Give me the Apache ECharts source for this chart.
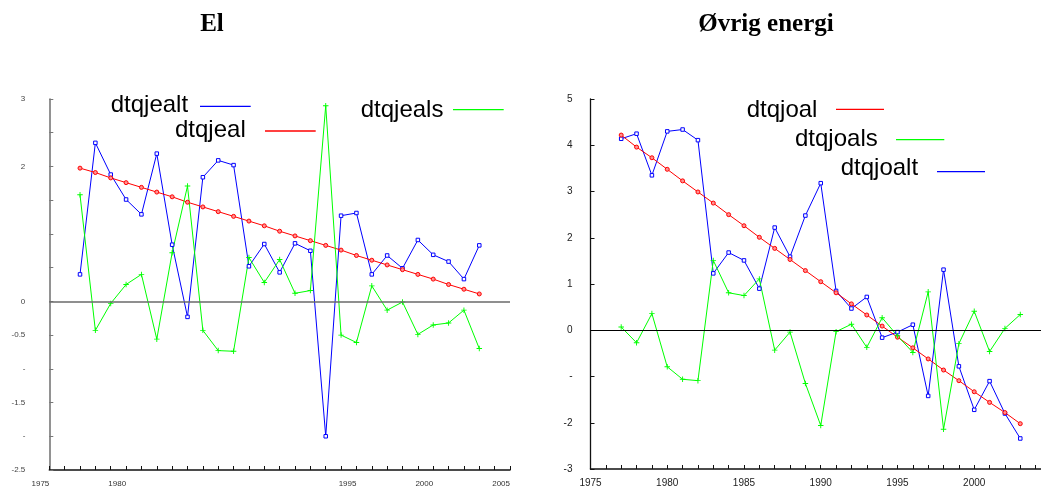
<!DOCTYPE html>
<html>
<head>
<meta charset="utf-8">
<script src="https://cdn.jsdelivr.net/npm/echarts@6/dist/echarts.min.js"></script>
<style>
  html, body { margin: 0; padding: 0; background: #fff; }
  #chart { width: 1041px; height: 488px; }
</style>
</head>
<body>
<div id="chart"></div>
<script>
// Years of the observations (both panels)
const years = [1977, 1978, 1979, 1980, 1981, 1982, 1983, 1984, 1985, 1986, 1987, 1988, 1989, 1990,
               1991, 1992, 1993, 1994, 1995, 1996, 1997, 1998, 1999, 2000, 2001, 2002, 2003];

// Panel "El"
const dtqjealt = [0.40, 2.35, 1.88, 1.51, 1.29, 2.19, 0.84, -0.23, 1.84, 2.09, 2.02, 0.52, 0.85, 0.43,
                  0.86, 0.75, -2.00, 1.27, 1.31, 0.40, 0.68, 0.49, 0.91, 0.69, 0.59, 0.33, 0.83];
const dtqjeal  = [1.975, 1.91, 1.83, 1.76, 1.69, 1.62, 1.55, 1.47, 1.40, 1.33, 1.26, 1.19, 1.12, 1.04,
                  0.97, 0.90, 0.83, 0.76, 0.68, 0.61, 0.54, 0.47, 0.40, 0.33, 0.25, 0.18, 0.11];
const dtqjeals = [1.58, -0.43, -0.03, 0.25, 0.40, -0.56, 0.72, 1.71, -0.43, -0.73, -0.74, 0.65, 0.28, 0.62,
                  0.12, 0.16, 2.90, -0.50, -0.61, 0.23, -0.13, -0.01, -0.49, -0.35, -0.32, -0.13, -0.70];

// Panel "Øvrig energi"
const dtqjoalt = [4.14, 4.25, 3.35, 4.30, 4.34, 4.11, 1.23, 1.68, 1.51, 0.90, 2.22, 1.59, 2.48, 3.18,
                  0.85, 0.47, 0.72, -0.16, -0.04, 0.12, -1.42, 1.31, -0.78, -1.72, -1.10, -1.80, -2.34];
const dtqjoal  = [4.22, 3.96, 3.73, 3.48, 3.23, 2.99, 2.75, 2.50, 2.26, 2.01, 1.77, 1.53, 1.29, 1.05,
                  0.81, 0.57, 0.33, 0.09, -0.15, -0.38, -0.62, -0.86, -1.09, -1.33, -1.56, -1.78, -2.02];
const dtqjoals = [0.07, -0.27, 0.36, -0.79, -1.06, -1.09, 1.51, 0.81, 0.75, 1.11, -0.43, -0.04, -1.15, -2.06,
                  -0.03, 0.13, -0.37, 0.27, -0.12, -0.48, 0.83, -2.14, -0.29, 0.41, -0.46, 0.04, 0.34];

// Tick labels
const elYTickValues  = [3, 2, 0, -0.5, -1, -1.5, -2, -2.5];
const elYTickLabels  = ['3', '2', '0', '-0.5', '-', '-1.5', '-', '-2.5'];
const elXTickLabels  = [1975, 1980, 1995, 2000, 2005];
const ovYTickValues  = [5, 4, 3, 2, 1, 0, -1, -2, -3];
const ovYTickLabels  = ['5', '4', '3', '2', '1', '0', '-', '-2', '-3'];
const ovXTickLabels  = [1975, 1980, 1985, 1990, 1995, 2000];

const pair = arr => years.map((y, i) => [y, arr[i]]);

const BLUE = '#0000ff', RED = '#ff0000', GREEN = '#00ff00';
const plusSymbol = 'path://M3,0h1.2v3h3v1.2h-3v3h-1.2v-3h-3v-1.2h3z';

function yLabel(values, labels) {
  return v => {
    const i = values.findIndex(t => Math.abs(t - v) < 1e-6);
    return i >= 0 ? labels[i] : '';
  };
}
function xLabel(list) {
  return v => (list.indexOf(Math.round(v)) >= 0 && Math.abs(v - Math.round(v)) < 1e-6) ? String(Math.round(v)) : '';
}

function lineSeries(name, arr, color, kind, gridIdx) {
  const s = {
    name, type: 'line', data: pair(arr),
    xAxisIndex: gridIdx, yAxisIndex: gridIdx,
    lineStyle: { color, width: 1 },
    itemStyle: { color },
    animation: false,
    z: 3
  };
  if (kind === 'square') {
    s.symbol = 'rect'; s.symbolSize = 3.5;
    s.itemStyle = { color: '#ffffff', borderColor: color, borderWidth: 1 };
  } else if (kind === 'circle') {
    s.symbol = 'circle'; s.symbolSize = 4;
    s.itemStyle = { color: '#ff9090', borderColor: color, borderWidth: 1 };
  } else {
    s.symbol = plusSymbol; s.symbolSize = 5.5;
    s.itemStyle = { color };
  }
  return s;
}

function legendItem(label, x, yText, x1, x2, yLine, color) {
  return [
    { type: 'text', left: x, top: yText - 14, silent: true,
      style: { text: label, font: '24px "Liberation Sans", Arial, sans-serif', fill: '#000' } },
    { type: 'line', silent: true,
      shape: { x1, y1: yLine, x2, y2: yLine },
      style: { stroke: color, lineWidth: 1.3 } }
  ];
}

const zeroLine = (color, width) => ({
  silent: true, symbol: 'none', label: { show: false },
  lineStyle: { color, width, type: 'solid' },
  data: [{ yAxis: 0 }], animation: false
});

const chart = echarts.init(document.getElementById('chart'), null, { renderer: 'canvas' });

const elSeries = [
  lineSeries('dtqjealt', dtqjealt, BLUE, 'square', 0),
  lineSeries('dtqjeal', dtqjeal, RED, 'circle', 0),
  lineSeries('dtqjeals', dtqjeals, GREEN, 'plus', 0)
];
elSeries[0].markLine = zeroLine('#6a6a6a', 1.6);

const ovSeries = [
  lineSeries('dtqjoalt', dtqjoalt, BLUE, 'square', 1),
  lineSeries('dtqjoal', dtqjoal, RED, 'circle', 1),
  lineSeries('dtqjoals', dtqjoals, GREEN, 'plus', 1)
];
ovSeries[0].markLine = zeroLine('#000000', 1.2);

chart.setOption({
  backgroundColor: '#ffffff',
  animation: false,
  grid: [
    { left: 49.3, right: 531, top: 99, bottom: 12, containLabel: false },
    { left: 590.5, right: 0, top: 99, bottom: 17, containLabel: false }
  ],
  xAxis: [
    {
      type: 'value', gridIndex: 0, min: 1975, max: 2005, interval: 1,
      axisLine: { onZero: false, lineStyle: { color: '#111', width: 1.5 } },
      axisTick: { inside: true, length: 4, lineStyle: { color: '#111' } },
      axisLabel: { formatter: xLabel(elXTickLabels), fontSize: 8, color: '#333', margin: 10,
                   align: 'right', fontFamily: '"Liberation Sans", Arial, sans-serif',
                   showMinLabel: true, showMaxLabel: true },
      splitLine: { show: false }
    },
    {
      type: 'value', gridIndex: 1, min: 1975, max: 2004.35, interval: 1,
      axisLine: { onZero: false, lineStyle: { color: '#111', width: 1.5 } },
      axisTick: { inside: true, length: 4, lineStyle: { color: '#111' } },
      axisLabel: { formatter: xLabel(ovXTickLabels), fontSize: 10, color: '#222', margin: 9,
                   fontFamily: '"Liberation Sans", Arial, sans-serif', showMaxLabel: false },
      splitLine: { show: false }
    }
  ],
  yAxis: [
    {
      type: 'value', gridIndex: 0, min: -2.5, max: 3, interval: 0.5,
      axisLine: { show: true, onZero: false, lineStyle: { color: '#777', width: 1.6 } },
      axisTick: { show: true, inside: true, length: 4, lineStyle: { color: '#777' } },
      axisLabel: { formatter: yLabel(elYTickValues, elYTickLabels), fontSize: 8, color: '#444', margin: 24,
                   fontFamily: '"Liberation Sans", Arial, sans-serif' },
      splitLine: { show: false }
    },
    {
      type: 'value', gridIndex: 1, min: -3, max: 5, interval: 1,
      axisLine: { show: true, onZero: false, lineStyle: { color: '#111', width: 1.3 } },
      axisTick: { show: true, inside: true, length: 4, lineStyle: { color: '#111' } },
      axisLabel: { formatter: yLabel(ovYTickValues, ovYTickLabels), fontSize: 10, color: '#222', margin: 18,
                   fontFamily: '"Liberation Sans", Arial, sans-serif' },
      splitLine: { show: false }
    }
  ],
  series: elSeries.concat(ovSeries),
  graphic: [
    { type: 'text', x: 212, y: 25, silent: true,
      style: { text: 'El', font: 'bold 25px "Liberation Serif", "Times New Roman", serif',
               fill: '#000', align: 'center', verticalAlign: 'middle' } },
    { type: 'text', x: 766, y: 25, silent: true,
      style: { text: 'Øvrig energi', font: 'bold 25px "Liberation Serif", "Times New Roman", serif',
               fill: '#000', align: 'center', verticalAlign: 'middle' } }
  ].concat(
    legendItem('dtqjealt', 110.7, 107, 200, 250.7, 106.3, BLUE),
    legendItem('dtqjeal', 175, 132, 265, 315.7, 131, RED),
    legendItem('dtqjeals', 360.7, 112.7, 453, 503.7, 109.7, GREEN),
    legendItem('dtqjoal', 746.7, 112, 836, 884, 109.3, RED),
    legendItem('dtqjoals', 795, 141, 896, 944.3, 139.7, GREEN),
    legendItem('dtqjoalt', 840.7, 170, 937, 985, 171.7, BLUE)
  )
});
</script>
</body>
</html>
